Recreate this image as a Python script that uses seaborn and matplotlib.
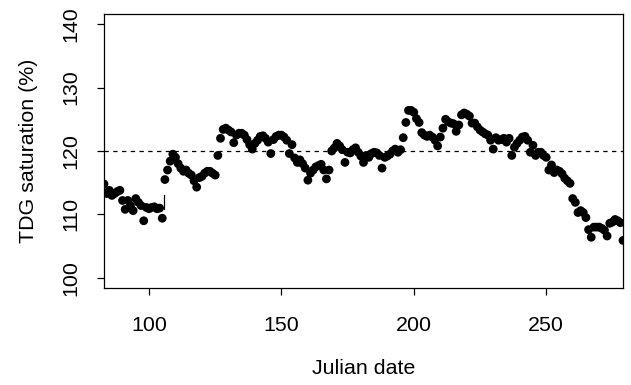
import numpy as np
import pandas as pd
import matplotlib
matplotlib.use("Agg")
import matplotlib.pyplot as plt
import seaborn as sns

# Julian dates and daily TDG saturation (%)
first_day = 83
tdg = [
    114.8, 113.3, 113.8, 113.0, 113.3, 113.6, 113.8, 112.2, 110.8, 112.2,   # 83-92
    111.4, 110.6, 112.5, 111.9, 111.4, 109.0, 111.1, 110.9, 111.1, 111.2,   # 93-102
    110.9, 111.0, 109.4, 115.5, 117.0, 118.4, 119.5, 119.0, 118.0, 117.3,   # 103-112
    116.8, 117.0, 116.5, 116.2, 115.3, 114.3, 115.8, 116.0, 116.5, 116.8,   # 113-122
    116.8, 116.5, 116.2, 119.3, 122.0, 123.4, 123.6, 123.3, 123.0, 121.3,   # 123-132
    122.5, 122.8, 122.8, 122.5, 121.8, 121.0, 120.3, 121.2, 121.7, 122.3,   # 133-142
    122.4, 122.0, 121.4, 119.6, 121.8, 122.3, 122.5, 122.5, 122.2, 121.7,   # 143-152
    119.6, 121.0, 118.9, 118.2, 118.6, 118.0, 117.3, 115.4, 116.5, 117.0,   # 153-162
    117.5, 117.7, 117.9, 117.0, 115.6, 117.0, 120.0, 120.5, 121.2, 120.8,   # 163-172
    120.2, 118.2, 119.8, 119.7, 120.2, 120.5, 119.8, 119.2, 118.2, 119.3,   # 173-182
    119.0, 119.6, 119.8, 119.7, 119.3, 117.3, 119.0, 119.2, 119.5, 120.0,   # 183-192
    120.3, 119.8, 120.2, 122.1, 124.5, 126.4, 126.4, 126.1, 125.1, 124.5,   # 193-202
    122.9, 122.5, 122.3, 122.5, 122.2, 121.7, 120.8, 122.2, 123.6, 125.0,   # 203-212
    124.6, 124.4, 124.3, 123.1, 124.1, 125.7, 126.0, 125.8, 125.5, 124.4,   # 213-222
    124.4, 123.8, 123.3, 123.0, 122.7, 122.5, 121.7, 120.3, 122.1, 121.7,   # 223-232
    121.8, 122.0, 121.4, 122.0, 119.3, 120.6, 121.2, 121.7, 122.2, 122.3,   # 233-242
    121.7, 119.8, 120.9, 119.3, 119.8, 119.8, 119.3, 119.0, 117.0, 117.8,   # 243-252
    116.6, 117.0, 116.8, 116.4, 115.7, 115.3, 114.9, 112.5, 111.9, 110.3,   # 253-262
    110.6, 110.3, 109.5, 107.6, 106.4, 108.0, 108.0, 108.0, 107.8, 107.5,   # 263-272
    106.6, 108.6, 108.8, 109.2, 109.0, 108.7, 105.9,                        # 273-279
]
days = list(range(first_day, first_day + len(tdg)))

criterion = 120          # TDG criterion line
mark_day = 105.8         # short vertical mark in the reference
mark_range = [110.9, 113.1]

x_ticks = [100, 150, 200, 250]
y_ticks = [100, 110, 120, 130, 140]

df = pd.DataFrame({"day": days, "tdg": tdg})

sns.set_style("white")
plt.rcParams["font.family"] = ["Liberation Sans", "DejaVu Sans"]
plt.rcParams["text.color"] = "black"
plt.rcParams["axes.labelcolor"] = "black"
plt.rcParams["xtick.color"] = "black"
plt.rcParams["ytick.color"] = "black"

fig = plt.figure(figsize=(6.31, 3.85), dpi=100)
ax = fig.add_axes([104 / 631, 1 - 288 / 385, 519 / 631, 274 / 385])

sns.scatterplot(data=df, x="day", y="tdg", ax=ax, color="black",
                s=40, edgecolor="none", linewidth=0, legend=False)
ax.axhline(criterion, color="black", lw=0.9, linestyle=(0, (3.5, 3.5)))
ax.plot([mark_day, mark_day], mark_range, color="black", lw=0.9)

ax.set_xlim(83, 279)
ax.set_ylim(98.4, 141.6)
ax.set_xticks(x_ticks)
ax.set_yticks(y_ticks)
ax.set_xticklabels([str(t) for t in x_ticks], fontsize=15.4)
ax.set_yticklabels([str(t) for t in y_ticks], fontsize=15.4,
                   rotation=90, va="center")
ax.tick_params(axis="both", direction="out", length=5, width=0.9,
               color="black", labelcolor="black", bottom=True, left=True)
ax.tick_params(axis="x", pad=15)
ax.tick_params(axis="y", pad=12)

for sp in ax.spines.values():
    sp.set_visible(True)
    sp.set_color("black")
    sp.set_linewidth(0.9)

ax.set_xlabel("Julian date", fontsize=15.4, color="black")
ax.set_ylabel("TDG saturation (%)", fontsize=15.4, color="black")
ax.xaxis.set_label_coords(0.5, -0.26)
ax.yaxis.set_label_coords(-0.128, 0.5)

fig.savefig("out.png", dpi=100)
